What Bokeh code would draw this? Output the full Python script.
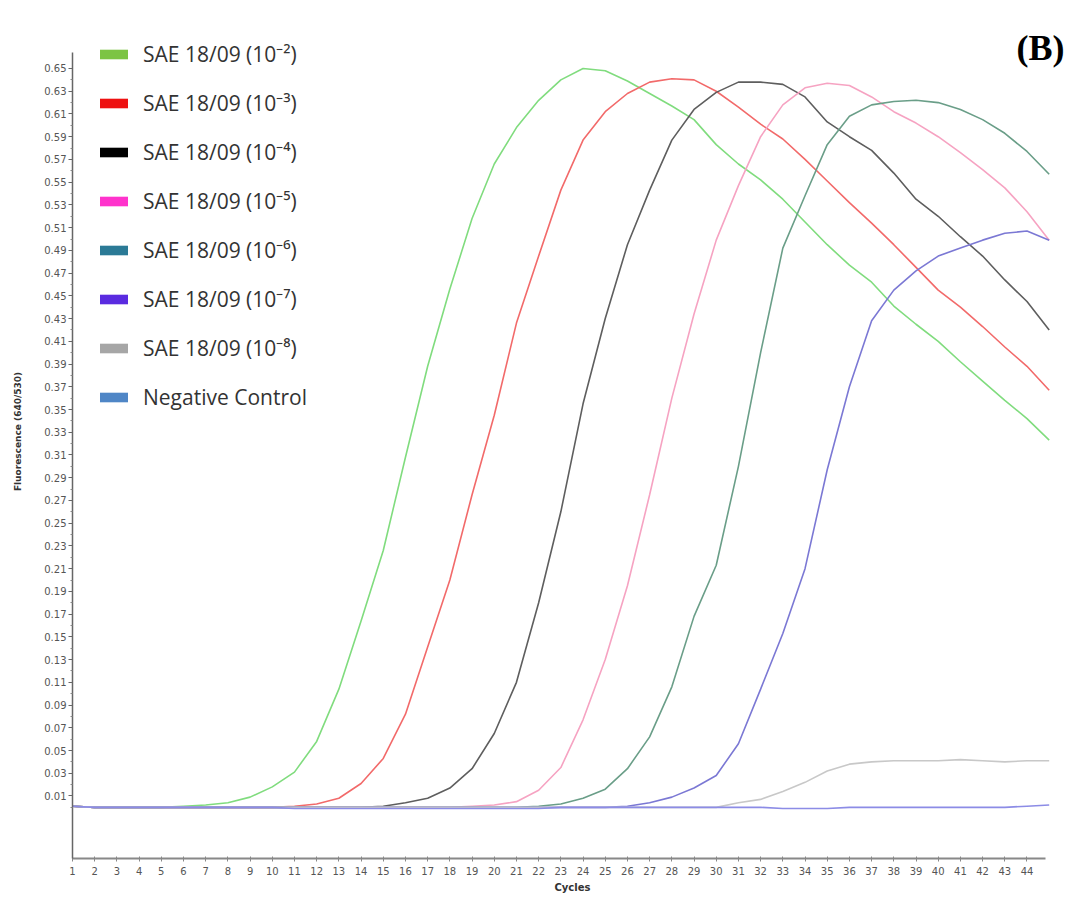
from bokeh.plotting import figure
from bokeh.models import Legend, LegendItem, FixedTicker, Label, Range1d
from bokeh.embed import file_html
from bokeh.resources import INLINE

# ---------------- data ----------------
cycles = list(range(1, 46))

sae_1e2 = [0.001, 0.000, 0.000, 0.000, 0.000, 0.001, 0.002, 0.004, 0.009, 0.018,
           0.031, 0.058, 0.104, 0.164, 0.226, 0.308, 0.388, 0.456, 0.518, 0.566,
           0.598, 0.622, 0.640, 0.650, 0.648, 0.639, 0.628, 0.617, 0.605, 0.583,
           0.566, 0.552, 0.535, 0.515, 0.495, 0.477, 0.462, 0.441, 0.425, 0.410,
           0.392, 0.375, 0.358, 0.342, 0.323]

sae_1e3 = [0.001, 0.000, 0.000, 0.000, 0.000, 0.000, 0.000, 0.000, 0.000, 0.000,
           0.001, 0.003, 0.008, 0.021, 0.043, 0.082, 0.141, 0.200, 0.275, 0.345,
           0.426, 0.485, 0.543, 0.587, 0.612, 0.628, 0.638, 0.641, 0.640, 0.630,
           0.616, 0.601, 0.588, 0.570, 0.551, 0.532, 0.514, 0.495, 0.475, 0.455,
           0.440, 0.423, 0.405, 0.388, 0.367]

sae_1e4 = [0.001, 0.000, 0.000, 0.000, 0.000, 0.000, 0.000, 0.000, 0.000, 0.000,
           0.000, 0.000, 0.000, 0.000, 0.001, 0.004, 0.008, 0.017, 0.034, 0.065,
           0.110, 0.180, 0.260, 0.355, 0.430, 0.495, 0.543, 0.587, 0.614, 0.629,
           0.638, 0.638, 0.636, 0.625, 0.603, 0.590, 0.578, 0.558, 0.535, 0.520,
           0.502, 0.485, 0.464, 0.445, 0.420]

sae_1e5 = [0.001, 0.000, 0.000, 0.000, 0.000, 0.000, 0.000, 0.000, 0.000, 0.000,
           0.000, 0.000, 0.000, 0.000, 0.000, 0.000, 0.000, 0.000, 0.001, 0.002,
           0.005, 0.015, 0.035, 0.077, 0.130, 0.195, 0.275, 0.360, 0.434, 0.499,
           0.547, 0.590, 0.618, 0.633, 0.637, 0.635, 0.625, 0.612, 0.602, 0.590,
           0.576, 0.561, 0.545, 0.524, 0.499]

sae_1e6 = [0.001, 0.000, 0.000, 0.000, 0.000, 0.000, 0.000, 0.000, 0.000, 0.000,
           0.000, 0.000, 0.000, 0.000, 0.000, 0.000, 0.000, 0.000, 0.000, 0.000,
           0.000, 0.001, 0.003, 0.008, 0.016, 0.034, 0.062, 0.106, 0.168, 0.213,
           0.300, 0.400, 0.492, 0.538, 0.583, 0.608, 0.618, 0.621, 0.622, 0.620,
           0.614, 0.605, 0.593, 0.577, 0.557]

sae_1e7 = [0.001, 0.000, 0.000, 0.000, 0.000, 0.000, 0.000, 0.000, 0.000, 0.000,
           0.000, 0.000, 0.000, 0.000, 0.000, 0.000, 0.000, 0.000, 0.000, 0.000,
           0.000, 0.000, 0.000, 0.000, 0.000, 0.001, 0.004, 0.009, 0.017, 0.028,
           0.056, 0.104, 0.153, 0.210, 0.297, 0.370, 0.428, 0.455, 0.472, 0.485,
           0.492, 0.499, 0.505, 0.507, 0.499]

sae_1e8 = [0.001, 0.000, 0.000, 0.000, 0.000, 0.000, 0.000, 0.000, 0.000, 0.000,
           0.000, 0.000, 0.000, 0.000, 0.000, 0.000, 0.000, 0.000, 0.000, 0.000,
           0.000, 0.000, 0.000, 0.000, 0.000, 0.000, 0.000, 0.000, 0.000, 0.000,
           0.004, 0.007, 0.014, 0.022, 0.032, 0.038, 0.040, 0.041, 0.041, 0.041,
           0.042, 0.041, 0.040, 0.041, 0.041]

negative = [0.001, 0.000, 0.000, 0.000, 0.000, 0.000, 0.000, 0.000, 0.000, 0.000,
            -0.001, -0.001, -0.001, -0.001, -0.001, -0.001, -0.001, -0.001, -0.001, -0.001,
            -0.001, -0.001, 0.000, 0.000, 0.000, 0.000, 0.000, 0.000, 0.000, 0.000,
            0.000, 0.000, -0.001, -0.001, -0.001, 0.000, 0.000, 0.000, 0.000, 0.000,
            0.000, 0.000, 0.000, 0.001, 0.002]

series_names = ["SAE 18/09 (10\u207b\u00b2)", "SAE 18/09 (10\u207b\u00b3)", "SAE 18/09 (10\u207b\u2074)",
                "SAE 18/09 (10\u207b\u2075)", "SAE 18/09 (10\u207b\u2076)", "SAE 18/09 (10\u207b\u2077)",
                "SAE 18/09 (10\u207b\u2078)", "Negative Control"]
series_values = [sae_1e2, sae_1e3, sae_1e4, sae_1e5, sae_1e6, sae_1e7, sae_1e8, negative]

x_ticks = list(range(1, 45))
y_ticks = [0.01, 0.03, 0.05, 0.07, 0.09, 0.11, 0.13, 0.15, 0.17, 0.19, 0.21, 0.23, 0.25,
           0.27, 0.29, 0.31, 0.33, 0.35, 0.37, 0.39, 0.41, 0.43, 0.45, 0.47, 0.49, 0.51,
           0.53, 0.55, 0.57, 0.59, 0.61, 0.63, 0.65]
y_minor = [0.00, 0.02, 0.04, 0.06, 0.08, 0.10, 0.12, 0.14, 0.16, 0.18, 0.20, 0.22, 0.24,
           0.26, 0.28, 0.30, 0.32, 0.34, 0.36, 0.38, 0.40, 0.42, 0.44, 0.46, 0.48, 0.50,
           0.52, 0.54, 0.56, 0.58, 0.60, 0.62, 0.64]

# ---------------- styles ----------------
line_colors = ["#80dc7e", "#f26a6a", "#5e5e5e", "#f6a3c2", "#6a9e88", "#7b78d4", "#c8c8c8", "#8c8ce6"]
legend_colors = ["#7cc444", "#ee1111", "#000000", "#ff33cc", "#2b7a96", "#5a2be0", "#a6a6a6", "#4f86c6"]

p = figure(width=1074, height=895, output_backend="svg", toolbar_location=None,
           x_range=Range1d(1, 46.05), y_range=Range1d(-0.045, 0.7063),
           min_border_left=72, min_border_right=2, min_border_top=4, min_border_bottom=37)
p.outline_line_color = None
p.grid.visible = False
p.background_fill_color = "white"
p.border_fill_color = "white"

for vals, col in zip(series_values, line_colors):
    p.line(cycles, vals, line_color=col, line_width=1.6)

# zero-area bands built from each series, only used to give the legend its colour swatches
items = []
for name, vals, col in zip(series_names, series_values, legend_colors):
    r = p.varea(x=cycles, y1=vals, y2=vals, fill_color=col, fill_alpha=1.0)
    items.append(LegendItem(label=name, renderers=[r]))

legend = Legend(items=items, location=(24, 447), padding=0, margin=0,
                glyph_width=35, glyph_height=12, label_height=28, spacing=21,
                label_standoff=12, label_text_font="Open Sans", label_text_font_size="21px",
                label_text_color="#333333", border_line_color=None, background_fill_alpha=0)
p.add_layout(legend)

# axes
xa = p.xaxis[0]
xa.ticker = FixedTicker(ticks=x_ticks, minor_ticks=[])
xa.bounds = (1, 44.85)
xa.axis_line_color = "#888888"
xa.axis_line_width = 2
xa.major_tick_line_color = "#888888"
xa.major_tick_in = 2
xa.major_tick_out = 3
xa.major_label_standoff = 5
xa.major_label_text_font = "DejaVu Sans"
xa.major_label_text_font_size = "10px"
xa.major_label_text_color = "#555555"
xa.axis_label = "Cycles"
xa.axis_label_text_font = "DejaVu Sans"
xa.axis_label_text_font_style = "bold"
xa.axis_label_text_font_size = "10px"
xa.axis_label_text_color = "#333333"
xa.axis_label_standoff = 4

ya = p.yaxis[0]
ya.ticker = FixedTicker(ticks=y_ticks, minor_ticks=y_minor)
ya.bounds = (-0.045, 0.664)
ya.axis_line_color = "#666666"
ya.axis_line_width = 1.5
ya.major_tick_line_color = "#666666"
ya.minor_tick_line_color = "#888888"
ya.major_tick_in = 0
ya.major_tick_out = 4
ya.minor_tick_in = 0
ya.minor_tick_out = 2
ya.major_label_standoff = 2
ya.major_label_text_font = "DejaVu Sans"
ya.major_label_text_font_size = "10px"
ya.major_label_text_color = "#555555"
ya.axis_label = "Fluorescence (640/530)"
ya.axis_label_text_font = "DejaVu Sans"
ya.axis_label_text_font_style = "bold"
ya.axis_label_text_font_size = "9px"
ya.axis_label_text_color = "#333333"
ya.axis_label_standoff = 18

panel_label = Label(x=968, y=811, x_units="screen", y_units="screen", text="(B)",
                    text_font="Liberation Serif", text_font_style="bold", text_font_size="36px",
                    text_align="center", text_baseline="alphabetic", text_color="#000000")
p.add_layout(panel_label)

open("out.html", "w").write(file_html(p, INLINE))
